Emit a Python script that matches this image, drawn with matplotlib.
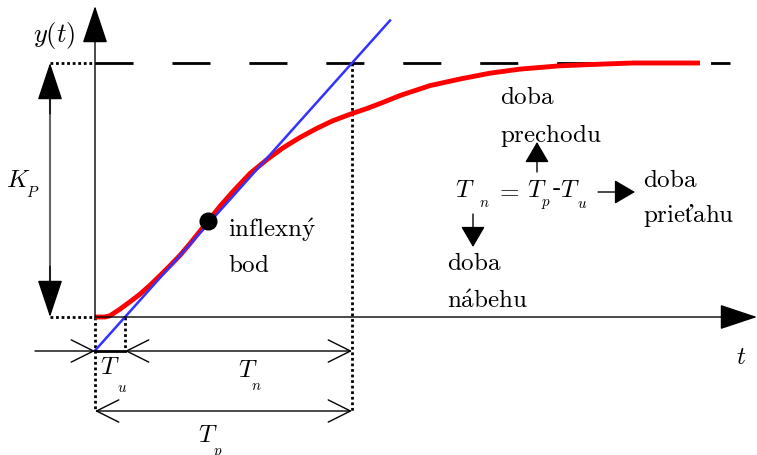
import matplotlib.pyplot as plt

plt.rcParams['mathtext.fontset'] = 'cm'

# step response of the process (normalized, gain K = 1)
step_t = [0, 1.0, 1.5, 2.5, 3.5, 4.5, 5.5, 6.5, 7.5, 8.5, 9.5, 10.5, 11.3,
          12.5, 13.8, 15.5, 17.2, 18.8, 20.5, 22.2, 23.8, 25.7, 27.2, 28.8,
          30.5, 33.5, 36.5, 39.5, 42.5, 46.5, 50.2, 53.8, 60.5]
step_y = [0, 0, 0.005, 0.031, 0.060, 0.090, 0.125, 0.163, 0.202, 0.243,
          0.289, 0.338, 0.377, 0.436, 0.494, 0.565, 0.620, 0.666, 0.707,
          0.743, 0.773, 0.801, 0.821, 0.845, 0.872, 0.911, 0.937, 0.960,
          0.976, 0.989, 0.995, 1.0, 1.0]

K = 1.0
Tu = 3.0      # doba nábehu
Tp = 25.7     # doba prechodu
Tn = Tp - Tu  # doba prieťahu
i_infl = 12   # inflection point in the response
t_tangent = [0.0, 29.5]

fig = plt.figure(figsize=(7.57, 4.56), dpi=100)
ax = fig.add_axes([0, 0, 1, 1])
ax.set_xlim(-9.5, 66.2)
ax.set_ylim(-0.5433, 1.252)
ax.axis('off')


def px(x, y):
    # sheet pixel -> data units
    return (x - 95) / 10, (318 - y) / 254


def arrow(p0, p1, style, lw=1.0, color='black', ms=20):
    ax.annotate('', xy=p1, xytext=p0,
                arrowprops=dict(arrowstyle=style, color=color, lw=lw,
                                mutation_scale=ms, shrinkA=0, shrinkB=0))


def sub_label(x, y, main, sub, size=18, dx=12, dy=18):
    ax.text(*px(x, y), main, fontsize=size, ha='center', va='center')
    ax.text(*px(x + dx, y + dy), sub, fontsize=size * 0.6,
            ha='center', va='center')


big_head = '-|>,head_length=1.2,head_width=0.4'
small_head = '-|>,head_length=0.65,head_width=0.38'
open_head = '<->,head_length=0.8,head_width=0.4'
dotted = dict(color='black', lw=2, ls=(0, (1, 1)))

# axes of the diagram
arrow((0, 0), (66.2, 0), big_head)
arrow((0, 0), px(95, 7), big_head)

# steady state level
ax.plot([0, 63.5], [K, K], color='black', lw=2, dashes=(13.7, 14))
ax.plot([-4.5, 0], [K, K], **dotted)
ax.plot([-4.5, 0], [0, 0], **dotted)

# K_P double arrow: grey shaft, black heads
ax.plot([-4.5, -4.5], [0.1, 0.9], color='#666666', lw=1.5)
arrow((-4.5, 0.8), (-4.5, K), big_head)
arrow((-4.5, 0.2), (-4.5, 0), big_head)

# helper verticals
y_tu, y_tp = px(0, 352)[1], px(0, 412)[1]
ax.plot([0, 0], [0, y_tp], **dotted)
ax.plot([Tu, Tu], [0, y_tu], **dotted)
ax.plot([Tp, Tp], [K, y_tp], **dotted)

# response and tangent
ax.plot(step_t, step_y, color='#ff0000', lw=3.5, solid_capstyle='butt',
        solid_joinstyle='round')
tan_y = [(t - Tu) / Tn * K for t in t_tangent]
ax.plot(t_tangent, tan_y, color='#3333ff', lw=1.8)
ax.plot([step_t[i_infl]], [step_y[i_infl]], 'o', color='black', ms=12)

# time intervals
arrow(px(35, 352), (0, y_tu), '->,head_length=0.8,head_width=0.4')
ax.plot([0, Tu], [y_tu, y_tu], color='black', lw=2)
arrow((Tu, y_tu), (Tp, y_tu), open_head)
arrow((0, y_tp), (Tp, y_tp), open_head)

# labels
ax.text(*px(54, 35), '$y(t)$', fontsize=19, ha='center', va='center')
ax.text(*px(741, 357), '$t$', fontsize=18, ha='center', va='center')
sub_label(18, 180, '$K$', '$P$', dx=15, dy=12)
sub_label(110, 367, '$T$', '$u$', dx=12, dy=20)
sub_label(248, 370, '$T$', '$n$', dx=8, dy=15)
sub_label(208, 435, '$T$', '$p$', dx=10, dy=17)

sub_label(465, 190, '$T$', '$n$', dx=19, dy=12)
ax.text(*px(507, 190), '$=$', fontsize=18, ha='center', va='center')
sub_label(537, 190, '$T$', '$p$', dx=9, dy=13)
ax.text(*px(557, 189), '-', fontsize=18, ha='center', va='center',
        family=['cmr10', 'DejaVu Serif'])
sub_label(570, 190, '$T$', '$u$', dx=12, dy=13)

arrow(px(537, 173), px(537, 143), small_head)
arrow(px(473, 215), px(473, 248), small_head)
arrow(px(598, 193), px(635, 193), small_head)

words = [(228, 230, r'inflexn\acute{y}'), (228, 265, 'bod'),
         (500, 97, 'doba'), (500, 135, 'prechodu'),
         (643, 180, 'doba'), (643, 215, 'prieťahu'),
         (447, 263, 'doba'), (447, 301, r'n\acute{a}behu')]
for x, y, s in words:
    ax.text(*px(x, y), r'$\mathrm{' + s + '}$', fontsize=18, ha='left',
            va='center')

fig.savefig('out.png', dpi=100)
